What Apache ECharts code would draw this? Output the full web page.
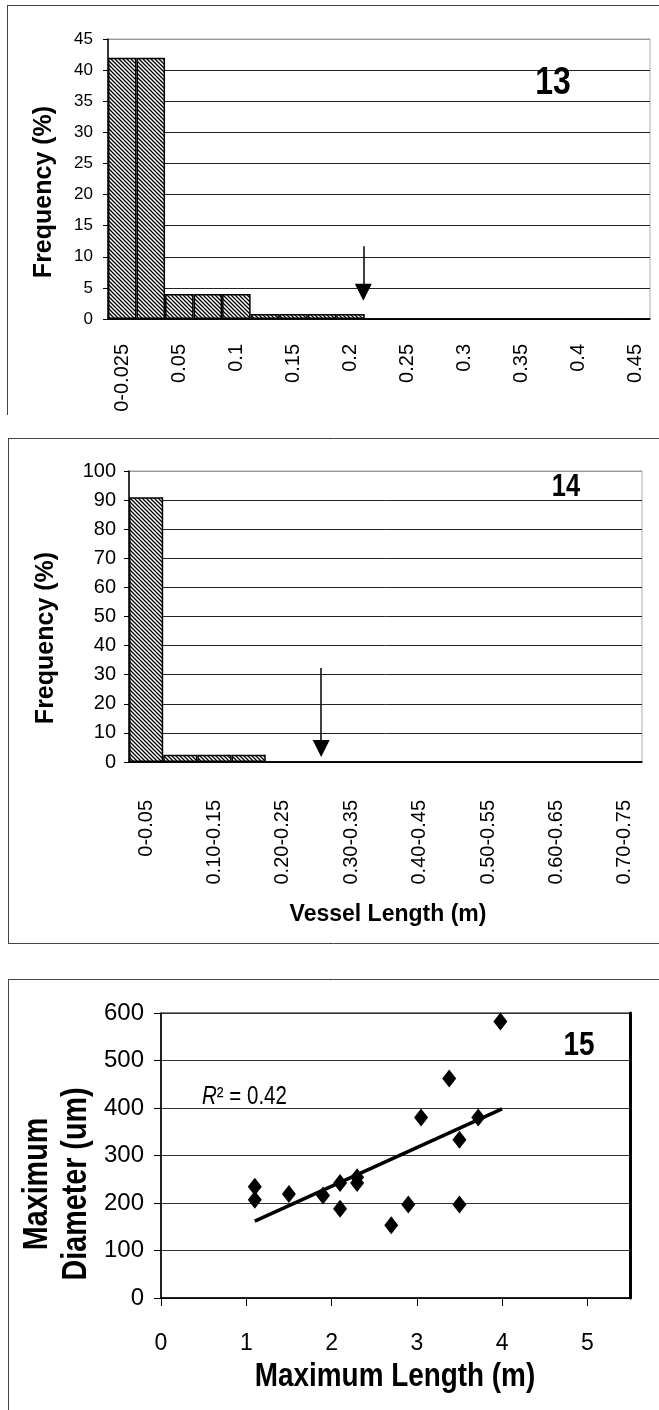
<!DOCTYPE html>
<html>
<head>
<meta charset="utf-8">
<script src="https://cdn.jsdelivr.net/npm/echarts@6/dist/echarts.min.js"></script>
<style>
  html, body { margin: 0; padding: 0; background: #fff; }
  #chart { width: 659px; height: 1410px; }
</style>
</head>
<body>
<div id="chart"></div>
<script>
// --- data ---
var cats13 = ['0-0.025', '0.025', '0.05', '0.075', '0.1', '0.125', '0.15', '0.175', '0.2', '0.225',
              '0.25', '0.275', '0.3', '0.325', '0.35', '0.375', '0.4', '0.425', '0.45'];
var freq13 = [42, 42, 4, 4, 4, 0.8, 0.8, 0.8, 0.8, 0, 0, 0, 0, 0, 0, 0, 0, 0, 0];
var arrow13 = [[8.95, 11.7], [8.95, 4.3]];

var cats14 = ['0-0.05', '0.05-0.10', '0.10-0.15', '0.15-0.20', '0.20-0.25', '0.25-0.30', '0.30-0.35',
              '0.35-0.40', '0.40-0.45', '0.45-0.50', '0.50-0.55', '0.55-0.60', '0.60-0.65', '0.65-0.70', '0.70-0.75'];
var freq14 = [91, 2.5, 2.5, 2.5, 0, 0, 0, 0, 0, 0, 0, 0, 0, 0, 0];
var arrow14 = [[5.62, 32.3], [5.62, 4.6]];

var points15 = [[1.1, 234], [1.1, 207], [1.5, 219], [1.9, 216], [2.1, 242], [2.1, 188],
                [2.3, 254], [2.3, 242], [2.7, 153], [2.9, 197], [3.05, 380], [3.38, 462],
                [3.5, 333], [3.5, 197], [3.72, 380], [3.98, 582]];
var trend15 = [[1.1, 162], [4.0, 398]];

var SANS = "'Liberation Sans', Arial, sans-serif";
var NARROW_X = 0.82; // squeeze for the condensed lettering of the original

function hatch() {
  var c = document.createElement('canvas');
  c.width = 4; c.height = 4;
  var ctx = c.getContext('2d');
  ctx.fillStyle = '#fff';
  ctx.fillRect(0, 0, 4, 4);
  ctx.strokeStyle = '#000';
  ctx.lineWidth = 1.3;
  ctx.beginPath();
  ctx.moveTo(-1, -1); ctx.lineTo(5, 5);
  ctx.moveTo(3, -1); ctx.lineTo(5, 1);
  ctx.moveTo(-1, 3); ctx.lineTo(1, 5);
  ctx.stroke();
  return c;
}
var pattern = { image: hatch(), repeat: 'repeat' };

function gridColors(n) {
  var a = [];
  for (var i = 0; i < n - 1; i++) a.push('#222');
  a.push('#999');
  return a;
}

function label(text, x, y, size, opts) {
  opts = opts || {};
  return {
    type: 'text', x: x, y: y, z: 10,
    rotation: opts.rotate ? Math.PI / 2 : 0,
    scaleX: opts.narrow ? NARROW_X : 1,
    style: {
      text: text, fill: '#000',
      font: (opts.bold ? 'bold ' : '') + size + 'px ' + SANS,
      lineHeight: opts.lineHeight,
      textAlign: opts.align || 'center', textVerticalAlign: 'middle',
      rich: opts.rich
    }
  };
}

function frame(x1, y1, x2, y2) {
  return { type: 'line', shape: { x1: x1, y1: y1, x2: x2, y2: y2 }, style: { stroke: '#444', lineWidth: 1 } };
}

var chart = echarts.init(document.getElementById('chart'));

var option = {
  backgroundColor: '#fff',
  animation: false,
  grid: [
    { left: 108, top: 39, width: 542, height: 280, show: true, borderColor: '#aaa', borderWidth: 1 },
    { left: 129, top: 471, width: 513, height: 291, show: true, borderColor: '#aaa', borderWidth: 1 },
    { left: 161, top: 1013, width: 469, height: 285, show: true, borderColor: '#000', borderWidth: 1 }
  ],
  xAxis: [
    {
      gridIndex: 0, type: 'category', data: cats13,
      axisLine: { lineStyle: { color: '#000', width: 1.5 } },
      axisTick: { length: 6, interval: 0, lineStyle: { color: '#000' } },
      axisLabel: { rotate: 90, interval: 1, margin: 25, color: '#000', fontFamily: SANS, fontSize: 20 }
    },
    { gridIndex: 0, type: 'value', min: 0, max: cats13.length, show: false },
    {
      gridIndex: 1, type: 'category', data: cats14,
      axisLine: { lineStyle: { color: '#000', width: 1.5 } },
      axisTick: { length: 7, interval: 0, lineStyle: { color: '#000' } },
      axisLabel: { rotate: 90, interval: 1, margin: 38, color: '#000', fontFamily: SANS, fontSize: 20 }
    },
    { gridIndex: 1, type: 'value', min: 0, max: cats14.length, show: false },
    {
      gridIndex: 2, type: 'value', min: 0, max: 5.5, interval: 1,
      splitLine: { show: false },
      axisLine: { lineStyle: { color: '#000', width: 1.5 } },
      axisTick: { length: 8, lineStyle: { color: '#000' } },
      axisLabel: { margin: 34, showMaxLabel: false, color: '#000', fontFamily: SANS, fontSize: 23 }
    }
  ],
  yAxis: [
    {
      gridIndex: 0, type: 'value', min: 0, max: 45, interval: 5,
      axisLine: { show: true, lineStyle: { color: '#000', width: 1.5 } },
      axisTick: { show: true, length: 5, lineStyle: { color: '#000' } },
      axisLabel: { margin: 15, color: '#000', fontFamily: SANS, fontSize: 17 },
      splitLine: { lineStyle: { color: gridColors(10), width: 1 } }
    },
    {
      gridIndex: 1, type: 'value', min: 0, max: 100, interval: 10,
      axisLine: { show: true, lineStyle: { color: '#000', width: 1.5 } },
      axisTick: { show: true, length: 5, lineStyle: { color: '#000' } },
      axisLabel: { margin: 13, color: '#000', fontFamily: SANS, fontSize: 20 },
      splitLine: { lineStyle: { color: gridColors(11), width: 1 } }
    },
    {
      gridIndex: 2, type: 'value', min: 0, max: 600, interval: 100,
      axisLine: { show: true, lineStyle: { color: '#000', width: 1.5 } },
      axisTick: { show: true, length: 7, lineStyle: { color: '#000' } },
      axisLabel: { margin: 17, color: '#000', fontFamily: SANS, fontSize: 24 },
      splitLine: { lineStyle: { color: '#333', width: 1 } }
    },
    {
      gridIndex: 2, type: 'value', min: 0, max: 600, position: 'right',
      axisLine: { show: true, lineStyle: { color: '#000', width: 3 } },
      axisTick: { show: false }, axisLabel: { show: false }, splitLine: { show: false }
    }
  ],
  series: [
    {
      type: 'bar', xAxisIndex: 0, yAxisIndex: 0, data: freq13,
      barWidth: '100%', barCategoryGap: 0,
      itemStyle: { color: pattern, borderColor: '#000', borderWidth: 1.5 }
    },
    {
      type: 'lines', coordinateSystem: 'cartesian2d', xAxisIndex: 1, yAxisIndex: 0,
      symbol: ['none', 'triangle'], symbolSize: 17, z: 5,
      lineStyle: { color: '#000', width: 1.5, opacity: 1 },
      data: [{ coords: arrow13 }]
    },
    {
      type: 'bar', xAxisIndex: 2, yAxisIndex: 1, data: freq14,
      barWidth: '100%', barCategoryGap: 0,
      itemStyle: { color: pattern, borderColor: '#000', borderWidth: 1.5 }
    },
    {
      type: 'lines', coordinateSystem: 'cartesian2d', xAxisIndex: 3, yAxisIndex: 1,
      symbol: ['none', 'triangle'], symbolSize: 17, z: 5,
      lineStyle: { color: '#000', width: 1.5, opacity: 1 },
      data: [{ coords: arrow14 }]
    },
    {
      type: 'scatter', xAxisIndex: 4, yAxisIndex: 2, data: points15,
      symbol: 'diamond', symbolSize: [14, 18],
      itemStyle: { color: '#000', opacity: 1 }, z: 4
    },
    {
      type: 'line', xAxisIndex: 4, yAxisIndex: 2, data: trend15,
      showSymbol: false, lineStyle: { color: '#000', width: 3.5 }, z: 3
    }
  ],
  graphic: [
    // panel frames
    frame(7, 5.5, 659, 5.5),
    frame(7.5, 5, 7.5, 415),
    frame(8, 438.5, 659, 438.5),
    frame(8.5, 438, 8.5, 944),
    frame(8, 943.5, 659, 943.5),
    frame(8, 979.5, 659, 979.5),
    frame(8.5, 979, 8.5, 1410),
    // axis titles
    label('Frequency (%)', 44, 192, 25, { bold: true, rotate: true }),
    label('Frequency (%)', 46, 638, 25, { bold: true, rotate: true }),
    label('Vessel Length (m)', 388, 915, 23, { bold: true }),
    label('Maximum\nDiameter (um)', 57, 1184, 35, { bold: true, rotate: true, narrow: true, lineHeight: 39 }),
    label('Maximum Length (m)', 395, 1377, 34, { bold: true, narrow: true }),
    // panel numbers
    label('13', 553, 83, 39, { bold: true, narrow: true }),
    label('14', 566, 487, 31, { bold: true, narrow: true }),
    label('15', 579, 1046, 34, { bold: true, narrow: true }),
    // r squared note
    label('{i|R}² = 0.42', 202, 1097, 25, {
      narrow: true, align: 'left',
      rich: { i: { fontStyle: 'italic', fontFamily: SANS, fontSize: 25, fill: '#000' } }
    })
  ]
};

chart.setOption(option);
</script>
</body>
</html>
